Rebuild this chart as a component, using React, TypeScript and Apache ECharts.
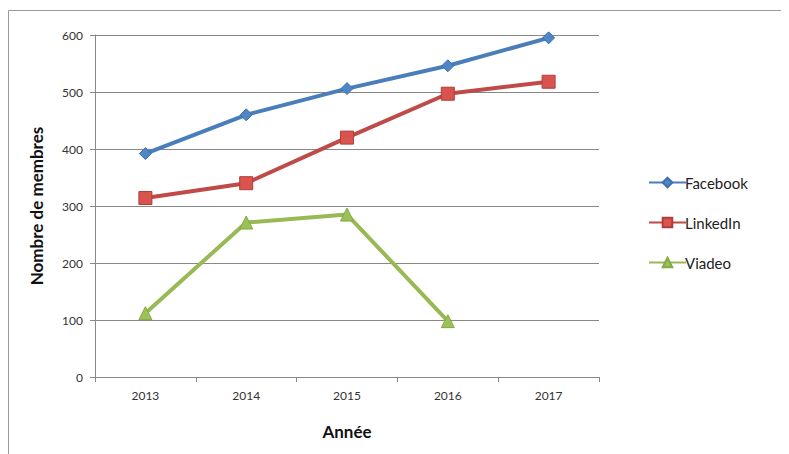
import React, { useEffect, useRef } from "react";
import * as echarts from "echarts";

const years = ["2013", "2014", "2015", "2016", "2017"];
const facebook = [392, 460, 506, 546, 595];
const linkedin = [314, 340, 420, 497, 518];
const viadeo: (number | null)[] = [112, 271, 285, 98, null];
const yTicks = { min: 0, max: 600, interval: 100 };

export default function App() {
  const ref = useRef<HTMLDivElement>(null);
  useEffect(() => {
    const chart = echarts.init(ref.current!, null, { renderer: "svg" });
    const font = "Lato, Open Sans, sans-serif";
    chart.setOption({
      animation: false,
      textStyle: { fontFamily: font },
      graphic: [
        {
          type: "rect",
          shape: { x: 0.5, y: 2.5, width: 800, height: 500 },
          style: { fill: "none", stroke: "#9a9a9a", lineWidth: 1 },
          silent: true,
        },
      ],
      grid: { left: 87, right: 190, top: 27, bottom: 77 },
      legend: {
        orient: "vertical",
        left: 635,
        top: 162,
        itemWidth: 37,
        itemHeight: 12,
        itemGap: 25,
        textStyle: { fontSize: 15, color: "#222", fontFamily: font, padding: [0, 0, 0, -6] },
        data: ["Facebook", "LinkedIn", "Viadeo"],
      },
      xAxis: {
        type: "category",
        data: years,
        boundaryGap: true,
        name: "Année",
        nameLocation: "middle",
        nameGap: 46,
        nameTextStyle: { fontSize: 17, fontWeight: "bold", color: "#111", fontFamily: font },
        axisLine: { lineStyle: { color: "#888", width: 1 } },
        axisTick: { show: true, length: 5, lineStyle: { color: "#888" } },
        axisLabel: { fontSize: 12, color: "#333", margin: 12 },
      },
      yAxis: {
        type: "value",
        min: yTicks.min,
        max: yTicks.max,
        interval: yTicks.interval,
        name: "Nombre de membres",
        nameLocation: "middle",
        nameGap: 50,
        nameTextStyle: { fontSize: 17, fontWeight: "bold", color: "#111", fontFamily: font },
        axisLine: { show: true, lineStyle: { color: "#888", width: 1 } },
        axisTick: { show: true, length: 5, lineStyle: { color: "#888" } },
        splitLine: { lineStyle: { color: "#888", width: 1 } },
        axisLabel: { fontSize: 12, color: "#333", margin: 12 },
      },
      series: [
        {
          name: "Facebook",
          type: "line",
          data: facebook,
          symbol: "diamond",
          symbolSize: 12,
          lineStyle: { width: 4, color: "#4a7ebb" },
          itemStyle: { color: "#4f86c6", borderColor: "#3d6fb0", borderWidth: 1 },
          color: "#4a7ebb",
        },
        {
          name: "LinkedIn",
          type: "line",
          data: linkedin,
          symbol: "rect",
          symbolSize: 13,
          lineStyle: { width: 4, color: "#be4b48" },
          itemStyle: { color: "#d9534f", borderColor: "#b03e3b", borderWidth: 1 },
          color: "#be4b48",
        },
        {
          name: "Viadeo",
          type: "line",
          data: viadeo,
          symbol: "triangle",
          symbolSize: 13,
          connectNulls: false,
          lineStyle: { width: 4, color: "#98b954" },
          itemStyle: { color: "#9bc256", borderColor: "#86a846", borderWidth: 1 },
          color: "#98b954",
        },
      ],
    });
    return () => chart.dispose();
  }, []);
  return <div ref={ref} style={{ width: 781, height: 446 }} />;
}
